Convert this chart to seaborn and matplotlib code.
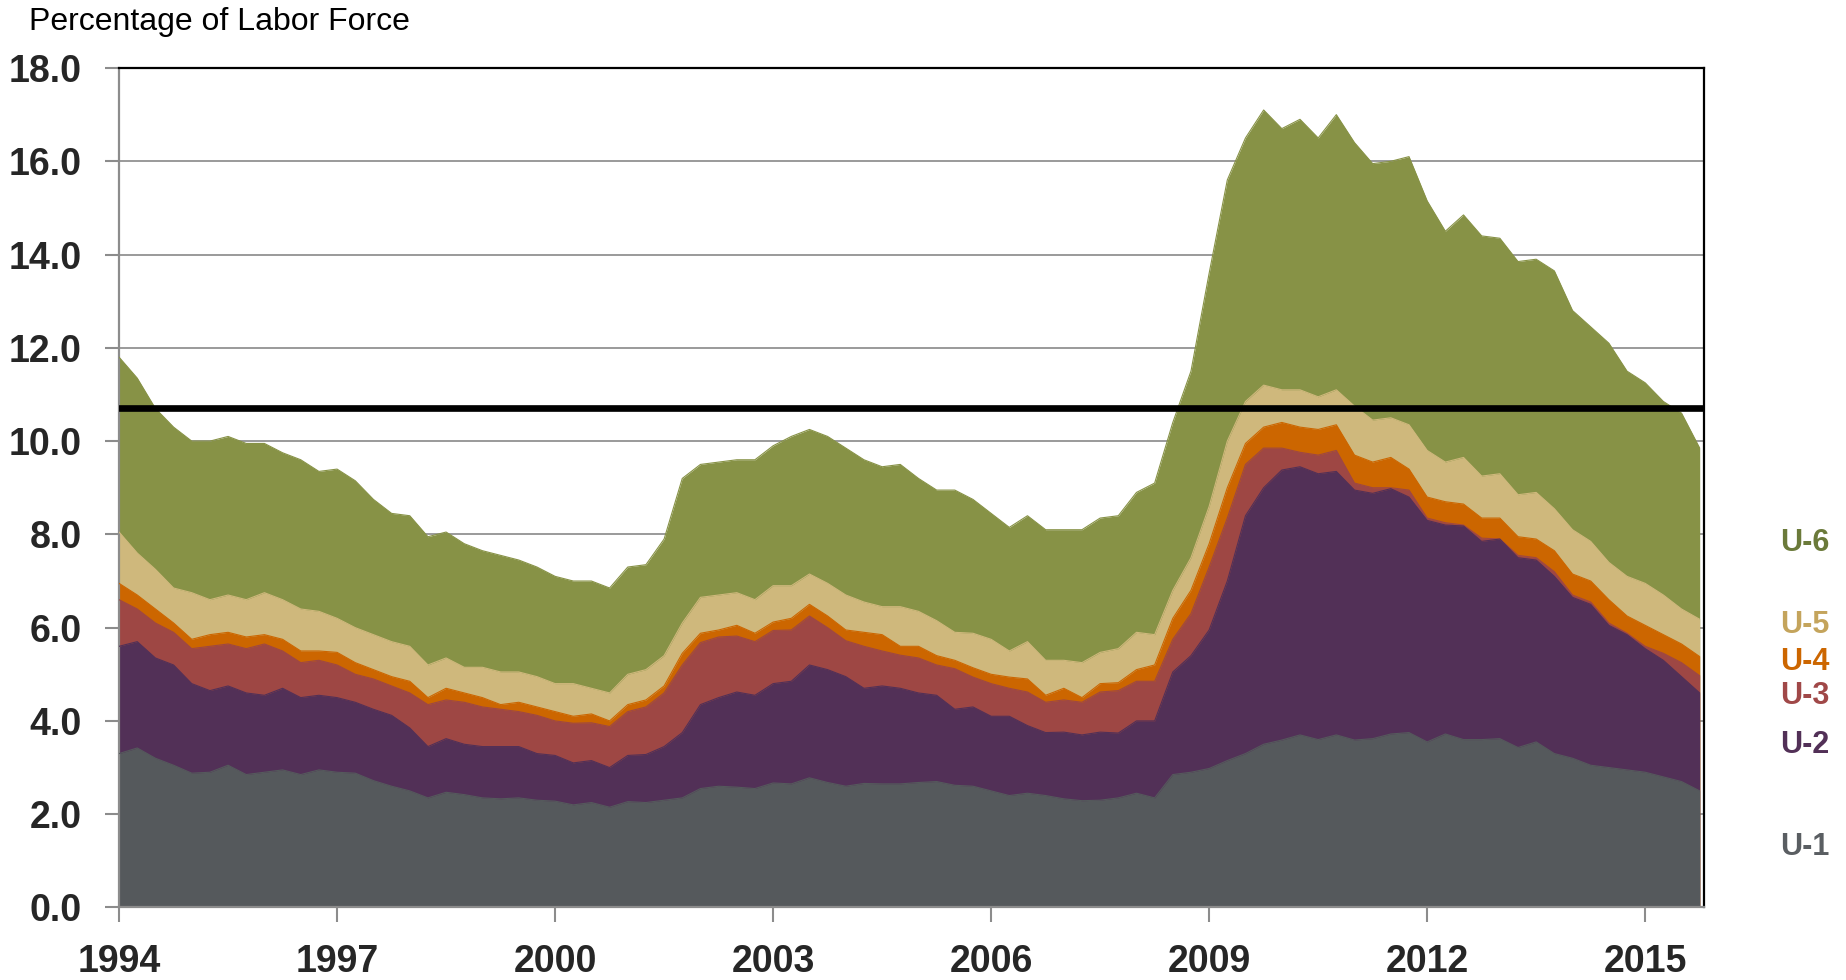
import numpy as np
import pandas as pd
import matplotlib
matplotlib.use("Agg")
import matplotlib.pyplot as plt
import matplotlib.transforms as mtransforms
import seaborn as sns

# quarterly readings, Jan 1994 .. Oct 2015
years = np.arange(1994, 2016, 0.25)

u6 = [11.8, 11.35, 10.7, 10.3, 10.0, 10.0, 10.1, 9.95, 9.95, 9.75, 9.6, 9.35,
      9.4, 9.15, 8.75, 8.45, 8.4, 7.95, 8.05, 7.8, 7.65, 7.55, 7.45, 7.3,
      7.1, 7.0, 7.0, 6.85, 7.3, 7.35, 7.9, 9.2, 9.5, 9.55, 9.6, 9.6,
      9.9, 10.1, 10.25, 10.1, 9.85, 9.6, 9.45, 9.5, 9.2, 8.95, 8.95, 8.75,
      8.45, 8.15, 8.4, 8.1, 8.1, 8.1, 8.35, 8.4, 8.9, 9.1, 10.4, 11.5,
      13.6, 15.6, 16.5, 17.1, 16.7, 16.9, 16.5, 17.0, 16.4, 15.95, 16.0, 16.1,
      15.15, 14.5, 14.85, 14.4, 14.35, 13.85, 13.9, 13.65, 12.8, 12.45, 12.1, 11.5,
      11.25, 10.85, 10.6, 9.85]
u5 = [8.05, 7.6, 7.25, 6.85, 6.75, 6.6, 6.7, 6.6, 6.75, 6.6, 6.4, 6.35,
      6.2, 6.0, 5.85, 5.7, 5.6, 5.2, 5.35, 5.15, 5.15, 5.05, 5.05, 4.95,
      4.8, 4.8, 4.7, 4.6, 5.0, 5.1, 5.4, 6.1, 6.65, 6.7, 6.75, 6.6,
      6.9, 6.9, 7.15, 6.95, 6.7, 6.55, 6.45, 6.45, 6.35, 6.15, 5.9, 5.88,
      5.75, 5.5, 5.7, 5.3, 5.3, 5.25, 5.47, 5.55, 5.9, 5.85, 6.8, 7.5,
      8.6, 10.0, 10.85, 11.2, 11.1, 11.1, 10.95, 11.1, 10.75, 10.45, 10.5, 10.35,
      9.8, 9.55, 9.65, 9.25, 9.3, 8.85, 8.9, 8.55, 8.1, 7.85, 7.4, 7.1,
      6.95, 6.7, 6.4, 6.18]
u4 = [6.95, 6.7, 6.4, 6.1, 5.75, 5.85, 5.9, 5.8, 5.85, 5.75, 5.5, 5.5,
      5.47, 5.25, 5.1, 4.95, 4.85, 4.5, 4.7, 4.6, 4.5, 4.35, 4.4, 4.3,
      4.2, 4.1, 4.15, 4.0, 4.35, 4.45, 4.75, 5.45, 5.88, 5.95, 6.05, 5.88,
      6.12, 6.2, 6.5, 6.25, 5.95, 5.9, 5.85, 5.6, 5.6, 5.4, 5.3, 5.14,
      5.0, 4.94, 4.9, 4.55, 4.7, 4.5, 4.8, 4.82, 5.1, 5.2, 6.2, 6.8,
      7.8, 9.0, 9.95, 10.3, 10.4, 10.3, 10.25, 10.35, 9.7, 9.55, 9.65, 9.4,
      8.8, 8.7, 8.65, 8.35, 8.35, 7.95, 7.9, 7.65, 7.15, 7.0, 6.6, 6.25,
      6.05, 5.85, 5.65, 5.38]
u3 = [6.6, 6.4, 6.1, 5.9, 5.55, 5.6, 5.65, 5.55, 5.65, 5.5, 5.25, 5.3,
      5.2, 5.0, 4.9, 4.75, 4.6, 4.35, 4.45, 4.4, 4.3, 4.25, 4.2, 4.12,
      4.0, 3.95, 3.96, 3.88, 4.2, 4.3, 4.6, 5.2, 5.68, 5.8, 5.82, 5.7,
      5.94, 5.95, 6.25, 6.0, 5.72, 5.6, 5.5, 5.41, 5.35, 5.2, 5.12, 4.94,
      4.8, 4.7, 4.62, 4.4, 4.45, 4.4, 4.62, 4.65, 4.85, 4.85, 5.75, 6.3,
      7.3, 8.35, 9.5, 9.85, 9.85, 9.76, 9.7, 9.8, 9.1, 9.0, 9.0, 8.95,
      8.35, 8.25, 8.2, 7.92, 7.9, 7.55, 7.5, 7.2, 6.7, 6.55, 6.1, 5.88,
      5.6, 5.45, 5.25, 4.97]
u2 = [5.6, 5.7, 5.35, 5.2, 4.8, 4.65, 4.75, 4.6, 4.55, 4.7, 4.5, 4.55,
      4.5, 4.4, 4.25, 4.12, 3.85, 3.45, 3.62, 3.5, 3.45, 3.45, 3.45, 3.3,
      3.26, 3.1, 3.15, 3.0, 3.26, 3.28, 3.45, 3.75, 4.35, 4.5, 4.62, 4.55,
      4.8, 4.85, 5.2, 5.1, 4.95, 4.7, 4.75, 4.7, 4.6, 4.55, 4.25, 4.3,
      4.1, 4.1, 3.9, 3.75, 3.76, 3.7, 3.76, 3.74, 4.0, 4.0, 5.05, 5.4,
      5.95, 7.0, 8.4, 9.0, 9.38, 9.45, 9.3, 9.35, 8.95, 8.88, 8.98, 8.8,
      8.3, 8.2, 8.18, 7.85, 7.9, 7.5, 7.45, 7.1, 6.65, 6.5, 6.05, 5.85,
      5.55, 5.3, 4.95, 4.6]
u1 = [3.3, 3.42, 3.2, 3.05, 2.88, 2.9, 3.05, 2.85, 2.9, 2.95, 2.85, 2.95,
      2.9, 2.88, 2.72, 2.6, 2.5, 2.35, 2.47, 2.42, 2.35, 2.33, 2.35, 2.3,
      2.28, 2.2, 2.25, 2.15, 2.27, 2.25, 2.3, 2.35, 2.55, 2.6, 2.58, 2.55,
      2.67, 2.65, 2.78, 2.68, 2.6, 2.66, 2.65, 2.65, 2.68, 2.7, 2.62, 2.6,
      2.5, 2.4, 2.45, 2.4, 2.33, 2.29, 2.3, 2.35, 2.45, 2.35, 2.85, 2.9,
      2.98, 3.15, 3.3, 3.5, 3.59, 3.7, 3.6, 3.7, 3.59, 3.62, 3.72, 3.75,
      3.55, 3.72, 3.6, 3.6, 3.62, 3.43, 3.55, 3.3, 3.2, 3.05, 3.0, 2.95,
      2.9, 2.8, 2.7, 2.5]

measures = ["U-6", "U-5", "U-4", "U-3", "U-2", "U-1"]
values = [u6, u5, u4, u3, u2, u1]
fill_colors = ["#879246", "#cfb87c", "#cc6600", "#9e4744", "#523057", "#55595c"]
label_colors = ["#6b7a3a", "#c4a45c", "#cc6600", "#a04848", "#523057", "#5a5e62"]
label_y = [7.82, 6.05, 5.27, 4.53, 3.49, 1.29]
reference_level = 10.7
year_ticks = list(range(1994, 2016, 3))

df = pd.concat(
    [pd.DataFrame({"year": years, "rate": v, "measure": m}) for m, v in zip(measures, values)],
    ignore_index=True,
)

sns.set_theme(style="white")
plt.rcParams["font.family"] = ["Liberation Sans", "DejaVu Sans"]

fig = plt.figure(figsize=(18.46, 9.8), dpi=100)
ax = fig.add_axes([0.0645, 0.074, 0.8586, 0.8566])
ax.set_axisbelow(True)
ax.yaxis.grid(True, color="#9a9a9a", linewidth=1.4)

# overlapping areas, widest measure at the back
for m, c in zip(measures, fill_colors):
    d = df[df["measure"] == m]
    ax.fill_between(d["year"], 0, d["rate"], color=c, linewidth=0, zorder=2)

sns.lineplot(data=df, x="year", y="rate", hue="measure", hue_order=measures,
             palette=dict(zip(measures, fill_colors)), linewidth=0.8,
             legend=False, ax=ax, zorder=3)

ax.axhline(reference_level, color="black", linewidth=4.8, solid_capstyle="round", zorder=5)

ax.set_xlim(1994, 2015.81)
ax.set_ylim(0, 18)
ax.set_xticks(year_ticks)
ax.set_xticklabels([str(y) for y in year_ticks])
ax.set_yticks(np.arange(0, 18.1, 2))
ax.set_yticklabels([f"{v:.1f}" for v in np.arange(0, 18.1, 2)])
ax.set_xlabel("")
ax.set_ylabel("")

ax.tick_params(axis="y", direction="out", length=10, width=1.5, color="#8c8c8c",
               pad=17, labelsize=27, left=True)
ax.tick_params(axis="x", direction="out", length=11, width=1.5, color="#8c8c8c",
               pad=15, labelsize=27, bottom=True)
for lab in ax.get_xticklabels() + ax.get_yticklabels():
    lab.set_fontweight("bold")

for side in ["left", "bottom"]:
    ax.spines[side].set_color("#8c8c8c")
    ax.spines[side].set_linewidth(1.6)
for side in ["top", "right"]:
    ax.spines[side].set_color("black")
    ax.spines[side].set_linewidth(1.6)
ax.spines["top"].set_zorder(6)

trans = mtransforms.blended_transform_factory(ax.transAxes, ax.transData)
for m, c, yv in zip(measures, label_colors, label_y):
    ax.text(1.048, yv, m, transform=trans, color=c, fontsize=22, fontweight="bold",
            ha="left", va="center", clip_on=False)

fig.text(29 / 1846, 1 - 22 / 980, "Percentage of Labor Force", fontsize=23,
         ha="left", va="center", color="black")

fig.savefig("out.png", dpi=100)
